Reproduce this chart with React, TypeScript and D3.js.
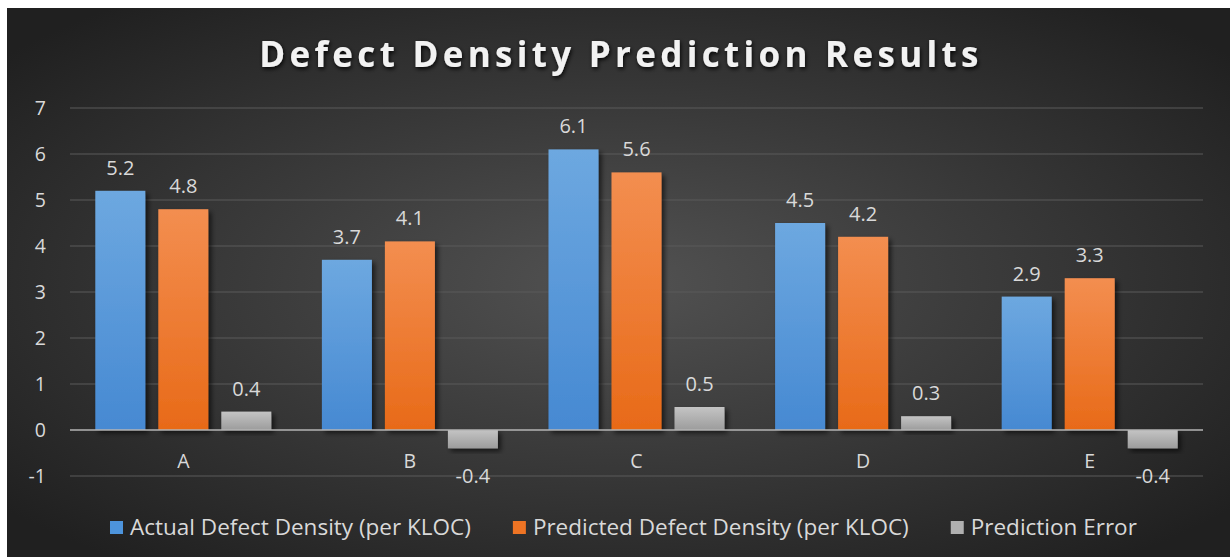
import React, { useEffect, useRef } from 'react';
import * as d3 from 'd3';

const categories = ['A', 'B', 'C', 'D', 'E'];
const actualDensity = [5.2, 3.7, 6.1, 4.5, 2.9];
const predictedDensity = [4.8, 4.1, 5.6, 4.2, 3.3];
const predictionError = [0.4, -0.4, 0.5, 0.3, -0.4];
const seriesNames = [
  'Actual Defect Density (per KLOC)',
  'Predicted Defect Density (per KLOC)',
  'Prediction Error',
];
const yTicks = [-1, 0, 1, 2, 3, 4, 5, 6, 7];

const FONT = "'Open Sans', 'Noto Sans', sans-serif";

const DefectChart = () => {
  const svgRef = useRef<SVGSVGElement>(null);

  useEffect(() => {
    const svg = d3.select(svgRef.current);
    svg.selectAll('*').remove();

    const W = 1230;
    const H = 557;
    const plot = { left: 70, right: 1203, top: 108, bottom: 476 };

    const series = [
      { name: seriesNames[0], values: actualDensity, top: '#6da8e0', bottom: '#4689d2', key: '#4d94dc' },
      { name: seriesNames[1], values: predictedDensity, top: '#f38e50', bottom: '#e86a18', key: '#ee7424' },
      { name: seriesNames[2], values: predictionError, top: '#c4c4c4', bottom: '#9c9c9c', key: '#b0b0b0' },
    ];

    const defs = svg.append('defs');

    // background glow
    const bg = defs.append('radialGradient').attr('id', 'bg')
      .attr('cx', '50%').attr('cy', '50%').attr('r', '65%');
    bg.append('stop').attr('offset', '0%').attr('stop-color', '#525252');
    bg.append('stop').attr('offset', '100%').attr('stop-color', '#202020');

    series.forEach((s, i) => {
      const g = defs.append('linearGradient').attr('id', `bar${i}`)
        .attr('x1', 0).attr('y1', 0).attr('x2', 0).attr('y2', 1);
      g.append('stop').attr('offset', '0%').attr('stop-color', s.top);
      g.append('stop').attr('offset', '100%').attr('stop-color', s.bottom);
    });

    const shadow = defs.append('filter').attr('id', 'shadow')
      .attr('x', '-20%').attr('y', '-20%').attr('width', '150%').attr('height', '150%');
    shadow.append('feDropShadow').attr('dx', 3).attr('dy', 3).attr('stdDeviation', 2.5)
      .attr('flood-color', '#000').attr('flood-opacity', 0.6);

    const glow = defs.append('filter').attr('id', 'glow')
      .attr('x', '-10%').attr('y', '-40%').attr('width', '120%').attr('height', '180%');
    glow.append('feDropShadow').attr('dx', 1).attr('dy', 2).attr('stdDeviation', 2)
      .attr('flood-color', '#000').attr('flood-opacity', 0.9);

    svg.append('rect')
      .attr('x', 7).attr('y', 8).attr('width', W - 7).attr('height', H - 8)
      .attr('fill', 'url(#bg)');

    // Scales
    const y = d3.scaleLinear().domain([-1, 7]).range([plot.bottom, plot.top]);
    const x = d3.scaleBand().domain(categories).range([plot.left, plot.right]);
    const groupWidth = 176;
    const inner = d3.scaleBand<number>()
      .domain(series.map((_, i) => i))
      .range([(x.bandwidth() - groupWidth) / 2, (x.bandwidth() + groupWidth) / 2])
      .paddingInner(13 / 63);

    // gridlines
    svg.append('g')
      .selectAll('line')
      .data(yTicks.filter(t => t !== 0))
      .join('line')
      .attr('x1', plot.left).attr('x2', plot.right)
      .attr('y1', d => y(d)).attr('y2', d => y(d))
      .attr('stroke', '#5a5a5a').attr('stroke-width', 1);

    // y tick labels
    svg.append('g')
      .selectAll('text')
      .data(yTicks)
      .join('text')
      .attr('x', 46)
      .attr('y', d => y(d))
      .attr('dy', '0.36em')
      .attr('text-anchor', 'end')
      .attr('fill', '#d9d9d9')
      .attr('font-family', FONT)
      .attr('font-size', 19.5)
      .text(d => d);

    // bars
    series.forEach((s, i) => {
      const g = svg.append('g');
      g.selectAll('rect')
        .data(s.values)
        .join('rect')
        .attr('x', (_, j) => (x(categories[j]) as number) + (inner(i) as number))
        .attr('width', inner.bandwidth())
        .attr('y', d => y(Math.max(0, d)))
        .attr('height', d => Math.abs(y(d) - y(0)))
        .attr('fill', `url(#bar${i})`)
        .attr('filter', 'url(#shadow)');

      g.selectAll('text')
        .data(s.values)
        .join('text')
        .attr('x', (_, j) => (x(categories[j]) as number) + (inner(i) as number) + inner.bandwidth() / 2)
        .attr('y', d => (d >= 0 ? y(d) - 16 : y(d) + 35))
        .attr('text-anchor', 'middle')
        .attr('fill', '#d9d9d9')
        .attr('font-family', FONT)
        .attr('font-size', 20)
        .text(d => d);
    });

    // zero line
    svg.append('line')
      .attr('x1', plot.left).attr('x2', plot.right)
      .attr('y1', y(0)).attr('y2', y(0))
      .attr('stroke', '#b4b4b4').attr('stroke-width', 1.5);

    // category labels
    svg.append('g')
      .selectAll('text')
      .data(categories)
      .join('text')
      .attr('x', d => (x(d) as number) + x.bandwidth() / 2)
      .attr('y', 468)
      .attr('text-anchor', 'middle')
      .attr('fill', '#d9d9d9')
      .attr('font-family', FONT)
      .attr('font-size', 19.5)
      .text(d => d);

    // title
    svg.append('text')
      .attr('x', 621)
      .attr('y', 67)
      .attr('text-anchor', 'middle')
      .attr('fill', '#f2f2f2')
      .attr('font-family', FONT)
      .attr('font-weight', 700)
      .attr('font-size', 35)
      .attr('letter-spacing', 4.3)
      .attr('filter', 'url(#glow)')
      .text('Defect Density Prediction Results');

    // legend
    const legend = svg.append('g');
    let lx = 110;
    series.forEach(s => {
      legend.append('rect')
        .attr('x', lx).attr('y', 521).attr('width', 13).attr('height', 13)
        .attr('fill', s.key);
      const t = legend.append('text')
        .attr('x', lx + 20)
        .attr('y', 535)
        .attr('fill', '#d9d9d9')
        .attr('font-family', FONT)
        .attr('font-size', 22.5)
        .text(s.name);
      const w = (t.node() as SVGTextElement).getComputedTextLength();
      lx += 20 + w + 42;
    });
  }, []);

  return (
    <svg
      ref={svgRef}
      width={1230}
      height={557}
      style={{ position: 'absolute', left: 0, top: 0, display: 'block' }}
    />
  );
};

export default function App() {
  return <DefectChart />;
}
